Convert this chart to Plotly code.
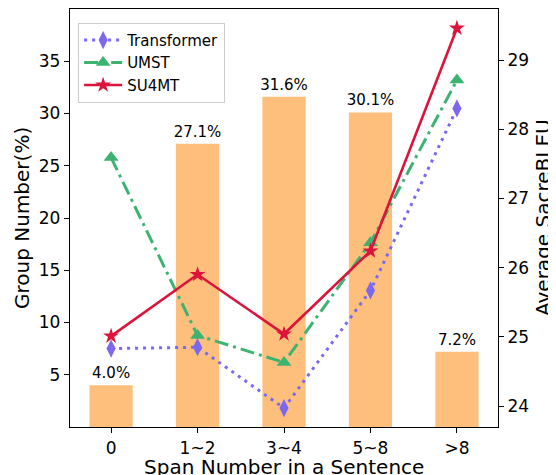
import plotly.graph_objects as go

categories = ["0", "1~2", "3~4", "5~8", ">8"]
group_pct = [4.0, 27.1, 31.6, 30.1, 7.2]
bar_labels = ["4.0%", "27.1%", "31.6%", "30.1%", "7.2%"]
transformer = [24.83, 24.85, 23.97, 25.67, 28.30]
umst = [27.59, 25.02, 24.63, 26.36, 28.71]
su4mt = [25.01, 25.90, 25.04, 26.24, 29.46]

FONT = "DejaVu Sans"

fig = go.Figure()
fig.add_trace(go.Bar(
    x=categories, y=group_pct, width=0.5,
    marker=dict(color="#FDBF7B", line=dict(width=0)),
    text=bar_labels, textposition="outside", constraintext="none",
    textfont=dict(family=FONT, size=15, color="black"),
    cliponaxis=False, showlegend=False, yaxis="y",
))
fig.add_trace(go.Scatter(
    x=categories, y=transformer, name="Transformer", yaxis="y2",
    mode="lines+markers",
    line=dict(color="#7B68EE", width=3, dash="3px,5px"),
    marker=dict(symbol="diamond-tall", size=13, color="#7B68EE", line=dict(width=0)),
))
fig.add_trace(go.Scatter(
    x=categories, y=umst, name="UMST", yaxis="y2",
    mode="lines+markers",
    line=dict(color="#3CB371", width=3, dash="14px,5px,3px,5px"),
    marker=dict(symbol="triangle-up", size=13, color="#3CB371", line=dict(width=0)),
))
fig.add_trace(go.Scatter(
    x=categories, y=su4mt, name="SU4MT", yaxis="y2",
    mode="lines+markers",
    line=dict(color="#DC143C", width=2.6),
    marker=dict(symbol="star", size=12, color="#DC143C", line=dict(width=0)),
))

axis_common = dict(showline=True, linecolor="black", linewidth=1.3,
                   ticks="outside", ticklen=5, tickwidth=1.2, tickcolor="black",
                   showgrid=False, zeroline=False, automargin=False,
                   tickfont=dict(family=FONT, size=17, color="black"))

# the page body has an 8px margin, so the figure is drawn 8px smaller
fig.update_layout(
    width=548, height=467,
    margin=dict(l=62, r=58, t=1, b=48),
    paper_bgcolor="white", plot_bgcolor="white",
    font=dict(family=FONT, color="black"),
    xaxis=dict(**axis_common, mirror=True, range=[-0.475, 4.475],
               type="category"),
    yaxis=dict(**axis_common, range=[0, 40], tickvals=[5, 10, 15, 20, 25, 30, 35]),
    yaxis2=dict(**axis_common, overlaying="y", side="right", range=[23.697, 29.737],
                tickvals=[24, 25, 26, 27, 28, 29]),
    legend=dict(x=0.019, y=0.967, xanchor="left", yanchor="top",
                bgcolor="rgba(255,255,255,0.85)", bordercolor="#cccccc", borderwidth=1,
                itemwidth=38,
                font=dict(family=FONT, size=15)),
    barmode="overlay",
    annotations=[
        dict(text="Group Number(%)", xref="paper", yref="paper",
             x=(22 - 70) / 428, y=0.5, xanchor="center", yanchor="middle",
             textangle=-90, showarrow=False, font=dict(family=FONT, size=20)),
        dict(text="Average SacreBLEU", xref="paper", yref="paper",
             x=(543 - 70) / 428, y=0.5, xanchor="center", yanchor="middle",
             textangle=-90, showarrow=False, font=dict(family=FONT, size=20)),
        dict(text="Span Number in a Sentence", xref="paper", yref="paper",
             x=0.5, y=(427 - 467) / 418, xanchor="center", yanchor="middle",
             showarrow=False, font=dict(family=FONT, size=20)),
    ],
)

fig.write_html("out.html")
